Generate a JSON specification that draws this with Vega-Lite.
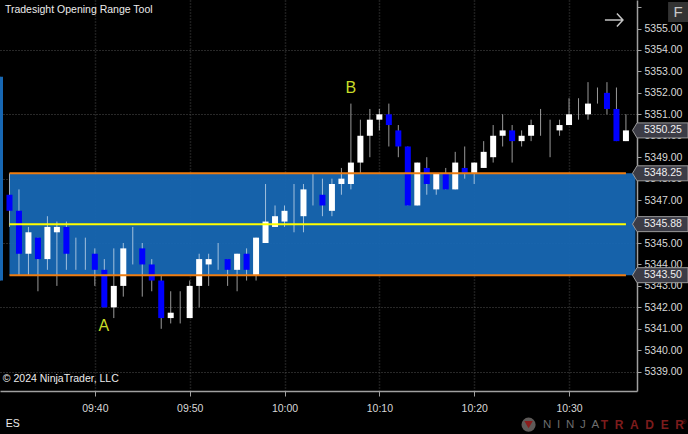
{"$schema":"https://vega.github.io/schema/vega-lite/v6.json","width":637,"height":391,"autosize":"none","padding":{"left":0,"top":0,"right":51,"bottom":43},"background":"#000000","config":{"view":{"stroke":null},"font":"Liberation Sans"},
"datasets":{
"range":[{"start":"2024-01-01T09:31:00","end":"2024-01-01T10:37:00","low":5343.5,"high":5348.25}],
"levels":[{"start":"2024-01-01T09:31:00","end":"2024-01-01T10:36:00","price":5348.25,"level":"edge"},{"start":"2024-01-01T09:31:00","end":"2024-01-01T10:36:00","price":5343.5,"level":"edge"},{"start":"2024-01-01T09:31:00","end":"2024-01-01T10:36:00","price":5345.88,"level":"mid"}],
"tags":[{"t":"2024-01-01T10:37:10","price":5350.25,"label":"5350.25"},{"t":"2024-01-01T10:37:10","price":5348.25,"label":"5348.25"},{"t":"2024-01-01T10:37:10","price":5345.88,"label":"5345.88"},{"t":"2024-01-01T10:37:10","price":5343.5,"label":"5343.50"}],
"notes":[{"t":"2024-01-01T09:30:31","price":5355.87,"label":"Tradesight Opening Range Tool"},{"t":"2024-01-01T09:30:18","price":5338.65,"label":"© 2024 NinjaTrader, LLC"},{"t":"2024-01-01T09:30:37","price":5336.56,"label":"ES"}],
"marks":[{"t":"2024-01-01T09:40:57","price":5341.13,"label":"A"},{"t":"2024-01-01T10:07:00","price":5352.23,"label":"B"}],
"candles":[
{"t":"2024-01-01T09:30:00","open":5352.75,"high":5352.75,"low":5343.25,"close":5343.25,"dir":"open"},
{"t":"2024-01-01T09:31:00","open":5347.25,"high":5348.25,"low":5345.75,"close":5346.5,"dir":"down"},
{"t":"2024-01-01T09:32:00","open":5346.5,"high":5347.5,"low":5343.5,"close":5344.5,"dir":"down"},
{"t":"2024-01-01T09:33:00","open":5344.5,"high":5345.75,"low":5343.5,"close":5345.5,"dir":"up"},
{"t":"2024-01-01T09:34:00","open":5345.25,"high":5345.25,"low":5342.75,"close":5344.25,"dir":"down"},
{"t":"2024-01-01T09:35:00","open":5344.25,"high":5346.25,"low":5343.75,"close":5345.75,"dir":"up"},
{"t":"2024-01-01T09:36:00","open":5345.5,"high":5346,"low":5343,"close":5345.75,"dir":"up"},
{"t":"2024-01-01T09:37:00","open":5345.75,"high":5346,"low":5343.75,"close":5344.5,"dir":"down"},
{"t":"2024-01-01T09:38:00","open":5344.5,"high":5345.25,"low":5343.75,"close":5344.5,"dir":"up"},
{"t":"2024-01-01T09:39:00","open":5344.5,"high":5345.25,"low":5343.75,"close":5344.5,"dir":"up"},
{"t":"2024-01-01T09:40:00","open":5344.5,"high":5344.75,"low":5343,"close":5343.75,"dir":"down"},
{"t":"2024-01-01T09:41:00","open":5343.75,"high":5344.25,"low":5342,"close":5342,"dir":"down"},
{"t":"2024-01-01T09:42:00","open":5342,"high":5344.75,"low":5341.5,"close":5343,"dir":"up"},
{"t":"2024-01-01T09:43:00","open":5343,"high":5345,"low":5342.5,"close":5344.75,"dir":"up"},
{"t":"2024-01-01T09:44:00","open":5345,"high":5345.75,"low":5344,"close":5345,"dir":"up"},
{"t":"2024-01-01T09:45:00","open":5344.75,"high":5345,"low":5342.5,"close":5344,"dir":"down"},
{"t":"2024-01-01T09:46:00","open":5344,"high":5344.25,"low":5342.75,"close":5343.25,"dir":"down"},
{"t":"2024-01-01T09:47:00","open":5343.25,"high":5343.5,"low":5341,"close":5341.5,"dir":"down"},
{"t":"2024-01-01T09:48:00","open":5341.5,"high":5342.75,"low":5341.25,"close":5341.75,"dir":"up"},
{"t":"2024-01-01T09:49:00","open":5342,"high":5342.75,"low":5341.25,"close":5342,"dir":"up"},
{"t":"2024-01-01T09:50:00","open":5341.5,"high":5343.25,"low":5341.5,"close":5343,"dir":"up"},
{"t":"2024-01-01T09:51:00","open":5343,"high":5344.5,"low":5342,"close":5344.25,"dir":"up"},
{"t":"2024-01-01T09:52:00","open":5344,"high":5344.5,"low":5343,"close":5344.25,"dir":"up"},
{"t":"2024-01-01T09:53:00","open":5344.25,"high":5345,"low":5343.75,"close":5344.25,"dir":"up"},
{"t":"2024-01-01T09:54:00","open":5344.25,"high":5344.25,"low":5343,"close":5343.75,"dir":"down"},
{"t":"2024-01-01T09:55:00","open":5343.75,"high":5344.5,"low":5342.75,"close":5344.5,"dir":"up"},
{"t":"2024-01-01T09:56:00","open":5344.5,"high":5344.75,"low":5343.25,"close":5343.75,"dir":"down"},
{"t":"2024-01-01T09:57:00","open":5343.5,"high":5345.25,"low":5343.25,"close":5345.25,"dir":"up"},
{"t":"2024-01-01T09:58:00","open":5345,"high":5347.75,"low":5345,"close":5346,"dir":"up"},
{"t":"2024-01-01T09:59:00","open":5345.75,"high":5346.75,"low":5345.75,"close":5346.25,"dir":"up"},
{"t":"2024-01-01T10:00:00","open":5346,"high":5346.75,"low":5345.75,"close":5346.5,"dir":"up"},
{"t":"2024-01-01T10:01:00","open":5346.5,"high":5347.75,"low":5345.5,"close":5346.5,"dir":"up"},
{"t":"2024-01-01T10:02:00","open":5346.25,"high":5347.75,"low":5345.5,"close":5347.5,"dir":"up"},
{"t":"2024-01-01T10:03:00","open":5347.5,"high":5348.25,"low":5346.75,"close":5347.5,"dir":"up"},
{"t":"2024-01-01T10:04:00","open":5347.25,"high":5348,"low":5346.25,"close":5346.75,"dir":"down"},
{"t":"2024-01-01T10:05:00","open":5346.5,"high":5348,"low":5346.25,"close":5347.75,"dir":"up"},
{"t":"2024-01-01T10:06:00","open":5347.75,"high":5348.5,"low":5347.25,"close":5348,"dir":"up"},
{"t":"2024-01-01T10:07:00","open":5347.75,"high":5351.5,"low":5347.5,"close":5348.75,"dir":"up"},
{"t":"2024-01-01T10:08:00","open":5348.75,"high":5350.75,"low":5348.25,"close":5350,"dir":"up"},
{"t":"2024-01-01T10:09:00","open":5350,"high":5351.25,"low":5349,"close":5350.75,"dir":"up"},
{"t":"2024-01-01T10:10:00","open":5350.75,"high":5351.25,"low":5350.25,"close":5351,"dir":"up"},
{"t":"2024-01-01T10:11:00","open":5351,"high":5351.5,"low":5349.5,"close":5350.5,"dir":"down"},
{"t":"2024-01-01T10:12:00","open":5350.25,"high":5350.5,"low":5349,"close":5349.5,"dir":"down"},
{"t":"2024-01-01T10:13:00","open":5349.5,"high":5349.5,"low":5346.75,"close":5346.75,"dir":"down"},
{"t":"2024-01-01T10:14:00","open":5346.75,"high":5348.75,"low":5346.75,"close":5348.75,"dir":"up"},
{"t":"2024-01-01T10:15:00","open":5348.5,"high":5349,"low":5347.25,"close":5347.75,"dir":"down"},
{"t":"2024-01-01T10:16:00","open":5347.5,"high":5348.25,"low":5347.25,"close":5348.25,"dir":"up"},
{"t":"2024-01-01T10:17:00","open":5348.25,"high":5348.5,"low":5347.5,"close":5347.5,"dir":"down"},
{"t":"2024-01-01T10:18:00","open":5347.5,"high":5349.25,"low":5347.5,"close":5348.75,"dir":"up"},
{"t":"2024-01-01T10:19:00","open":5348.5,"high":5349.5,"low":5348,"close":5348.25,"dir":"down"},
{"t":"2024-01-01T10:20:00","open":5348.25,"high":5348.75,"low":5347.75,"close":5348.75,"dir":"up"},
{"t":"2024-01-01T10:21:00","open":5348.5,"high":5349.75,"low":5348.5,"close":5349.25,"dir":"up"},
{"t":"2024-01-01T10:22:00","open":5349,"high":5350.5,"low":5348.75,"close":5350,"dir":"up"},
{"t":"2024-01-01T10:23:00","open":5350,"high":5351,"low":5349.5,"close":5350.25,"dir":"up"},
{"t":"2024-01-01T10:24:00","open":5350.25,"high":5350.5,"low":5348.75,"close":5349.75,"dir":"down"},
{"t":"2024-01-01T10:25:00","open":5349.75,"high":5350.25,"low":5349.5,"close":5350,"dir":"up"},
{"t":"2024-01-01T10:26:00","open":5350,"high":5350.75,"low":5349.75,"close":5350.5,"dir":"up"},
{"t":"2024-01-01T10:27:00","open":5350.5,"high":5351.25,"low":5350,"close":5350.5,"dir":"up"},
{"t":"2024-01-01T10:28:00","open":5350,"high":5350.75,"low":5349,"close":5350,"dir":"up"},
{"t":"2024-01-01T10:29:00","open":5350.25,"high":5350.75,"low":5350,"close":5350.5,"dir":"up"},
{"t":"2024-01-01T10:30:00","open":5350.5,"high":5351.75,"low":5350.5,"close":5351,"dir":"up"},
{"t":"2024-01-01T10:31:00","open":5351,"high":5351.75,"low":5350.75,"close":5351,"dir":"up"},
{"t":"2024-01-01T10:32:00","open":5351,"high":5352.5,"low":5350.75,"close":5351.5,"dir":"up"},
{"t":"2024-01-01T10:33:00","open":5352,"high":5352.25,"low":5351.5,"close":5352,"dir":"up"},
{"t":"2024-01-01T10:34:00","open":5352,"high":5352.5,"low":5351,"close":5351.25,"dir":"down"},
{"t":"2024-01-01T10:35:00","open":5351.25,"high":5352.25,"low":5349.75,"close":5349.75,"dir":"down"},
{"t":"2024-01-01T10:36:00","open":5349.75,"high":5351,"low":5349.75,"close":5350.25,"dir":"up"}
]},
"layer":[
{"data":{"name":"range"},"mark":{"type":"rect","color":"#1767b3","opacity":0.95},
"encoding":{"x":{"field":"start","type":"temporal","title":null,
"scale":{"padding":0,"domain":[{"year":2024,"month":1,"date":1,"hours":9,"minutes":30},{"year":2024,"month":1,"date":1,"hours":10,"minutes":37,"seconds":10}]},
"axis":{"format":"%H:%M","values":[{"year":2024,"month":1,"date":1,"hours":9,"minutes":40},{"year":2024,"month":1,"date":1,"hours":9,"minutes":50},{"year":2024,"month":1,"date":1,"hours":10,"minutes":0},{"year":2024,"month":1,"date":1,"hours":10,"minutes":10},{"year":2024,"month":1,"date":1,"hours":10,"minutes":20},{"year":2024,"month":1,"date":1,"hours":10,"minutes":30}],"grid":true,"gridColor":"#3a3a3a","gridWidth":1.5,"gridDash":[1,2],"domainColor":"#a0a0a0","domainWidth":1.5,"tickColor":"#a0a0a0","tickSize":5,"labelColor":"#d8d8d8","labelFont":"Liberation Sans","labelFontSize":10.5,"labelPadding":7,"labelFlush":false,"labelOverlap":false}},
"x2":{"field":"end"},
"y":{"field":"low","type":"quantitative","title":null,"scale":{"domain":[5338.1,5356.33],"nice":false,"zero":false},
"axis":{"orient":"right","tickCount":20,"values":[5339,5340,5341,5342,5343,5344,5345,5346,5347,5348,5349,5350,5351,5352,5353,5354,5355,5356],"labelExpr":"datum.value>5355?'':format(datum.value,'.2f')","grid":true,"gridColor":"#505050","gridWidth":1,"gridDash":[1,2],"gridOpacity":{"condition":{"test":"datum.value%3==2","value":1},"value":0},"domainColor":"#a0a0a0","domainWidth":1.5,"tickColor":"#a0a0a0","tickSize":4,"labelColor":"#d8d8d8","labelFont":"Liberation Sans","labelFontSize":10.5,"labelPadding":3,"labelFlush":false,"labelOverlap":false}},
"y2":{"field":"high"}}},
{"data":{"name":"candles"},"mark":{"type":"rule","color":"#ffffff","strokeWidth":1,"opacity":0.6},
"encoding":{"x":{"field":"t","type":"temporal","title":null},"y":{"field":"low","type":"quantitative","title":null},"y2":{"field":"high"}}},
{"data":{"name":"candles"},"mark":{"type":"bar","size":6,"clip":true},
"encoding":{"x":{"field":"t","type":"temporal","title":null},"y":{"field":"open","type":"quantitative","title":null},"y2":{"field":"close"},
"color":{"field":"dir","type":"nominal","legend":null,"scale":{"domain":["up","down","open"],"range":["#ffffff","#0000ff","#1767b3"]}}}},
{"data":{"name":"levels"},"mark":{"type":"rule","strokeWidth":2},
"encoding":{"x":{"field":"start","type":"temporal","title":null},"x2":{"field":"end"},"y":{"field":"price","type":"quantitative","title":null},
"stroke":{"field":"level","type":"nominal","legend":null,"scale":{"domain":["edge","mid"],"range":["#ee7d11","#ffff00"]}}}},
{"data":{"name":"tags"},"mark":{"type":"point","filled":true,"size":4,"opacity":1,"fill":"#3c3c46","stroke":"#9a9a9a","strokeWidth":1,"shape":"M-4.5,0 L0,-7.5 L51,-7.5 L51,7.5 L0,7.5 Z"},
"encoding":{"x":{"field":"t","type":"temporal","title":null},"y":{"field":"price","type":"quantitative","title":null}}},
{"data":{"name":"tags"},"mark":{"type":"text","align":"left","baseline":"middle","dx":7,"color":"#f0f0f0","font":"Liberation Sans","fontSize":10.5},
"encoding":{"x":{"field":"t","type":"temporal","title":null},"y":{"field":"price","type":"quantitative","title":null},"text":{"field":"label"}}},
{"data":{"name":"notes"},"mark":{"type":"text","align":"left","baseline":"middle","color":"#ececec","font":"Liberation Sans","fontSize":10.5},
"encoding":{"x":{"field":"t","type":"temporal","title":null},"y":{"field":"price","type":"quantitative","title":null},"text":{"field":"label"}}},
{"data":{"name":"marks"},"mark":{"type":"text","align":"center","baseline":"middle","color":"#c8dc28","font":"Liberation Sans","fontSize":16},
"encoding":{"x":{"field":"t","type":"temporal","title":null},"y":{"field":"price","type":"quantitative","title":null},"text":{"field":"label"}}},
{"data":{"values":[{"t":"2024-01-01T10:34:44","price":5355.4}]},"mark":{"type":"point","filled":false,"size":4,"opacity":1,"stroke":"#c4c4c4","strokeWidth":1.5,"shape":"M-9,0 L9,0 M3,-6.5 L9,0 L3,6.5"},
"encoding":{"x":{"field":"t","type":"temporal","title":null},"y":{"field":"price","type":"quantitative","title":null}}},
{"data":{"values":[{"t":"2024-01-01T10:41:30","price":5355.77}]},"mark":{"type":"point","shape":"square","filled":true,"size":400,"opacity":1,"color":"#333333"},
"encoding":{"x":{"field":"t","type":"temporal","title":null},"y":{"field":"price","type":"quantitative","title":null}}},
{"data":{"values":[{"t":"2024-01-01T10:41:30","price":5355.77,"label":"F"}]},"mark":{"type":"text","align":"center","baseline":"middle","color":"#c8c8c8","font":"Liberation Sans","fontSize":15},
"encoding":{"x":{"field":"t","type":"temporal","title":null},"y":{"field":"price","type":"quantitative","title":null},"text":{"field":"label"}}},
{"data":{"values":[{"t":"2024-01-01T10:25:44","price":5336.53}]},"mark":{"type":"point","shape":"circle","filled":true,"size":200,"opacity":1,"color":"#5e5a58"},
"encoding":{"x":{"field":"t","type":"temporal","title":null},"y":{"field":"price","type":"quantitative","title":null}}},
{"data":{"values":[{"t":"2024-01-01T10:25:44","price":5336.53}]},"mark":{"type":"point","shape":"triangle-down","filled":true,"size":70,"opacity":1,"color":"#8a1c1c"},
"encoding":{"x":{"field":"t","type":"temporal","title":null},"y":{"field":"price","type":"quantitative","title":null}}},
{"data":{"values":[{"t":"2024-01-01T10:27:15","price":5336.51,"label":"N\u2002I\u2002N\u2002J\u2002A"}]},"mark":{"type":"text","align":"left","baseline":"middle","color":"#6e6e6e","font":"Liberation Sans","fontSize":11.5},
"encoding":{"x":{"field":"t","type":"temporal","title":null},"y":{"field":"price","type":"quantitative","title":null},"text":{"field":"label"}}},
{"data":{"values":[{"t":"2024-01-01T10:33:20","price":5336.51,"label":"T\u2007R\u2007A\u2007D\u2007E\u2007R"}]},"mark":{"type":"text","align":"left","baseline":"middle","color":"#7c1c1c","font":"Liberation Sans","fontWeight":"bold","fontSize":12},
"encoding":{"x":{"field":"t","type":"temporal","title":null},"y":{"field":"price","type":"quantitative","title":null},"text":{"field":"label"}}},
{"data":{"values":[{"t":"2024-01-01T10:41:54","price":5336.65,"label":"®"}]},"mark":{"type":"text","align":"left","baseline":"middle","color":"#7c1c1c","font":"Liberation Sans","fontSize":6},
"encoding":{"x":{"field":"t","type":"temporal","title":null},"y":{"field":"price","type":"quantitative","title":null},"text":{"field":"label"}}}
]}
